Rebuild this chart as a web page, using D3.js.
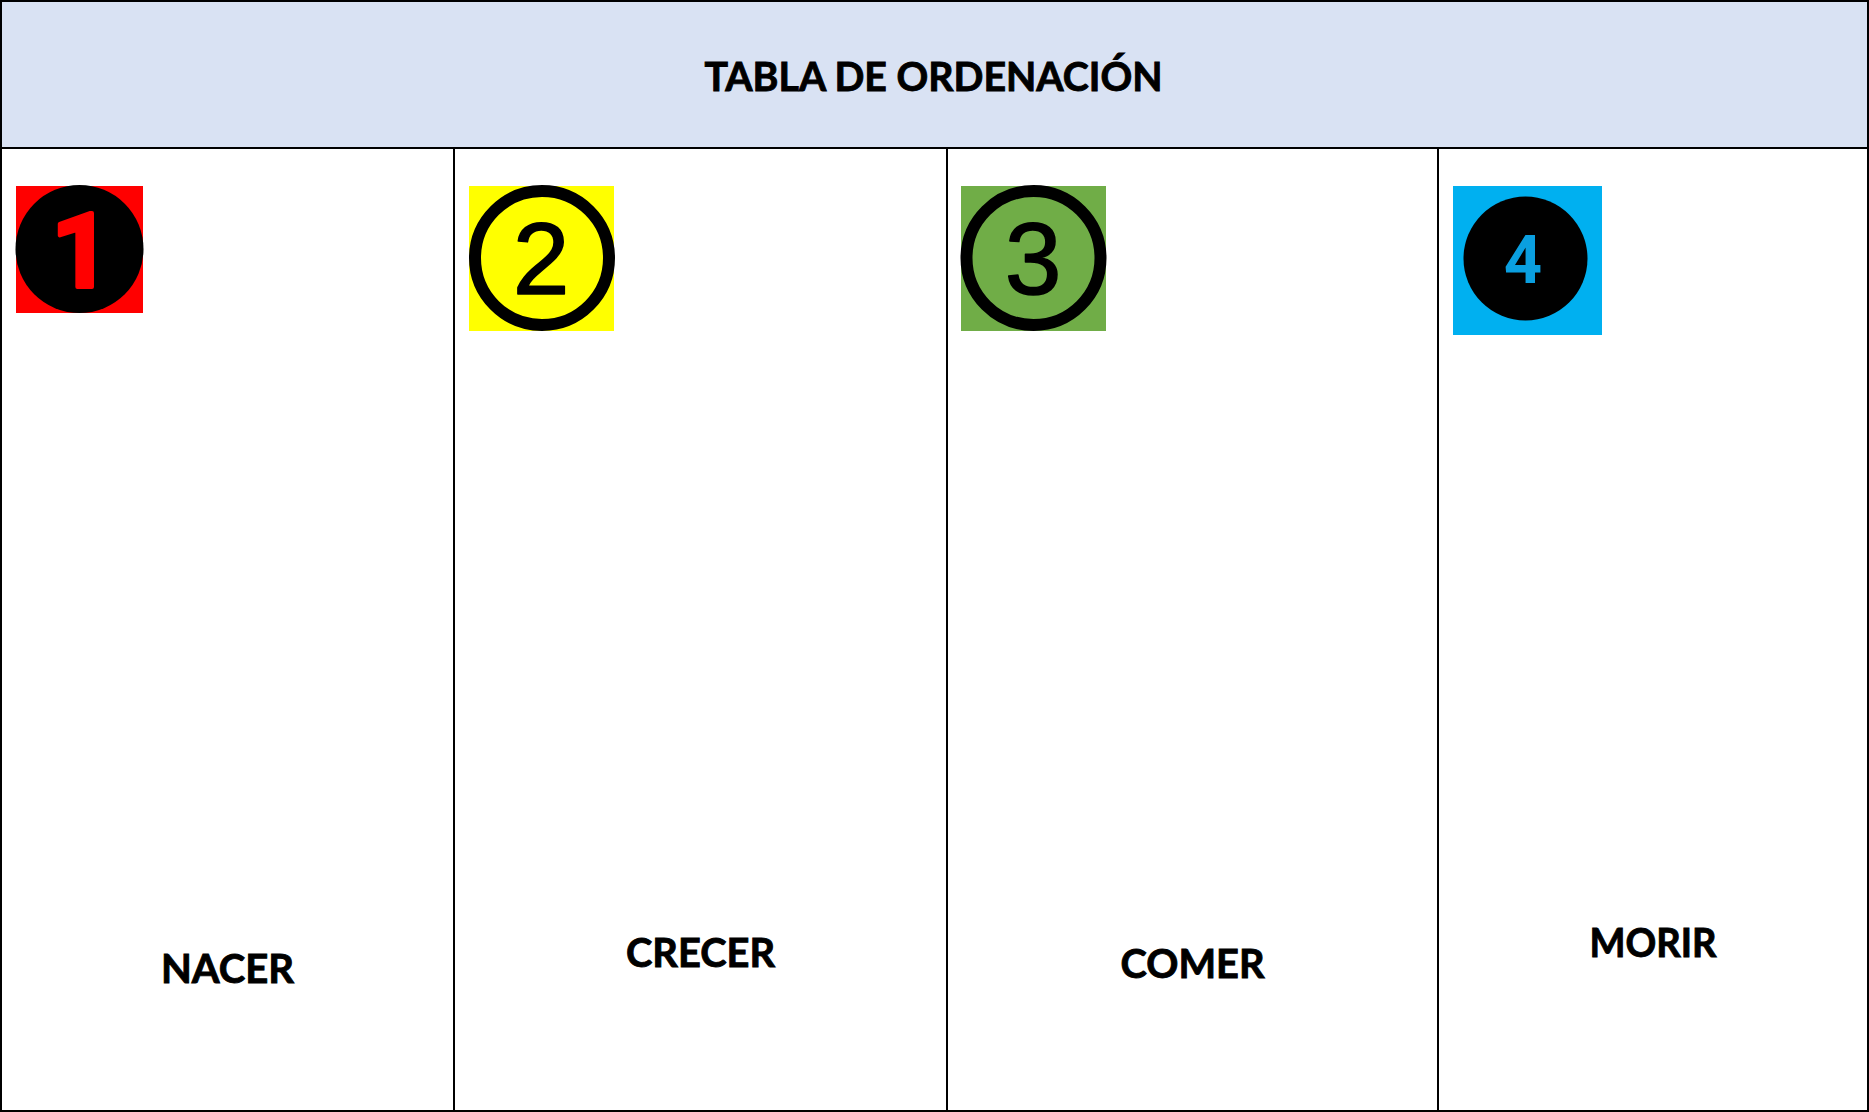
<!DOCTYPE html>
<html>
<head>
<meta charset="utf-8">
<title>Tabla de ordenación</title>
<script src="https://cdn.jsdelivr.net/npm/d3@7"></script>
<style>
  html, body { margin: 0; padding: 0; background: #fff; }
  svg { display: block; }
  text { font-family: Lato, "Open Sans", sans-serif; font-weight: 700; fill: #000; }
  .rotulo { stroke: #000; stroke-width: 0.9px; }
</style>
</head>
<body>
<svg id="chart" width="1869" height="1112"></svg>
<script>
var titulo = "TABLA DE ORDENACIÓN";
var etiquetas = ["NACER", "CRECER", "COMER", "MORIR"];
var numeros = ["1", "2", "3", "4"];
var coloresFondo = ["#ff0000", "#ffff00", "#70ad47", "#00b0f0"];
var anchosColumna = [453, 493, 491, 431];

var W = 1869, H = 1112, topY = 1, headY = 148;
var svg = d3.select("#chart");

var bordes = d3.cumsum([1].concat(anchosColumna));
var x = d3.scaleLinear().domain([0, W]).range([0, W]);

// cabecera
svg.append("rect").attr("x", 1).attr("y", topY).attr("width", W - 2).attr("height", headY - topY)
  .attr("fill", "#d9e2f3");
svg.append("text").attr("class", "rotulo").attr("x", 933.5).attr("y", 91).attr("text-anchor", "middle")
  .attr("font-size", 41).attr("textLength", 458).attr("lengthAdjust", "spacingAndGlyphs").text(titulo);

// lineas de la tabla
svg.append("rect").attr("x", 1).attr("y", topY).attr("width", W - 2).attr("height", H - 2)
  .attr("fill", "none").attr("stroke", "#000").attr("stroke-width", 2);
svg.append("line").attr("x1", 0).attr("x2", W).attr("y1", headY).attr("y2", headY)
  .attr("stroke", "#000").attr("stroke-width", 2);
svg.selectAll(".col").data(bordes.slice(1, 4)).enter().append("line").attr("class", "col")
  .attr("x1", function(d) { return x(d); }).attr("x2", function(d) { return x(d); })
  .attr("y1", headY).attr("y2", H).attr("stroke", "#000").attr("stroke-width", 2);

// fondos de los numeros
var cuadros = [[16, 186, 127, 127], [469, 186, 145, 145], [961, 186, 145, 145], [1453, 186, 149, 149]];
svg.selectAll(".cuadro").data(cuadros).enter().append("rect").attr("class", "cuadro")
  .attr("x", function(d) { return d[0]; }).attr("y", function(d) { return d[1]; })
  .attr("width", function(d) { return d[2]; }).attr("height", function(d) { return d[3]; })
  .attr("fill", function(d, i) { return coloresFondo[i]; });

// circulos: 1 y 4 rellenos, 2 y 3 solo con aro
var circulos = [
  { cx: 79.5, cy: 249, r: 64, fill: "#000", sw: 0 },
  { cx: 542, cy: 258, r: 67, fill: "none", sw: 12 },
  { cx: 1033.5, cy: 258, r: 67, fill: "none", sw: 12 },
  { cx: 1525.5, cy: 258.5, r: 62, fill: "#000", sw: 0 }
];
svg.selectAll(".circulo").data(circulos).enter().append("circle").attr("class", "circulo")
  .attr("cx", function(d) { return d.cx; }).attr("cy", function(d) { return d.cy; }).attr("r", function(d) { return d.r; })
  .attr("fill", function(d) { return d.fill; }).attr("stroke", "#000").attr("stroke-width", function(d) { return d.sw; });

var estilosNumero = [
  { x: 81, y: 287, size: 104, fill: "#ff0000", font: "Roboto", weight: 700, sw: 4 },
  { x: 541, y: 294, size: 102, fill: "#000", font: "Liberation Sans", weight: 400, sw: 1.5 },
  { x: 1033, y: 294, size: 102, fill: "#000", font: "Liberation Sans", weight: 400, sw: 1.5 },
  { x: 1523, y: 283, size: 67, fill: "#0a9fe0", font: "Roboto", weight: 700, sw: 0 }
];
svg.selectAll(".numero").data(numeros).enter().append("text").attr("class", "numero")
  .attr("x", function(d, i) { return estilosNumero[i].x; }).attr("y", function(d, i) { return estilosNumero[i].y; })
  .attr("text-anchor", "middle").attr("font-size", function(d, i) { return estilosNumero[i].size; })
  .style("font-family", function(d, i) { return estilosNumero[i].font; })
  .style("font-weight", function(d, i) { return estilosNumero[i].weight; })
  .style("fill", function(d, i) { return estilosNumero[i].fill; })
  .style("stroke", function(d, i) { return estilosNumero[i].fill; })
  .style("stroke-width", function(d, i) { return estilosNumero[i].sw; })
  .style("stroke-linejoin", "round")
  .text(function(d) { return d; });

// etiquetas de abajo
var posEtiqueta = [[227.5, 983, 133], [700.5, 967, 149], [1192.5, 978, 144], [1653, 957, 127]];
svg.selectAll(".etiqueta").data(etiquetas).enter().append("text").attr("class", "etiqueta rotulo")
  .attr("x", function(d, i) { return posEtiqueta[i][0]; }).attr("y", function(d, i) { return posEtiqueta[i][1]; })
  .attr("text-anchor", "middle").attr("font-size", 40)
  .attr("textLength", function(d, i) { return posEtiqueta[i][2]; }).attr("lengthAdjust", "spacingAndGlyphs")
  .text(function(d) { return d; });
</script>
</body>
</html>
